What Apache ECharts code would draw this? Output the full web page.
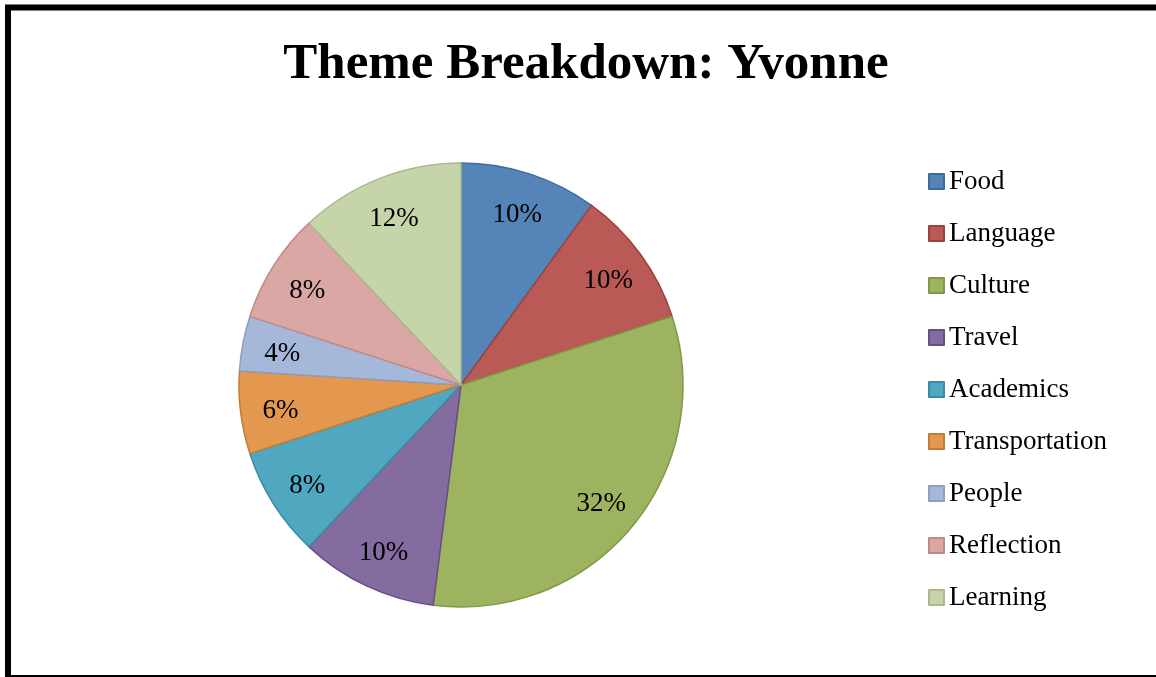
<!DOCTYPE html>
<html>
<head>
<meta charset="utf-8">
<script src="https://cdn.jsdelivr.net/npm/echarts@6/dist/echarts.min.js"></script>
<style>
  html, body { margin: 0; padding: 0; background: #fff; }
  #main { width: 1156px; height: 677px; }
</style>
</head>
<body>
<div id="main"></div>
<script>
var themes = ['Food', 'Language', 'Culture', 'Travel', 'Academics', 'Transportation', 'People', 'Reflection', 'Learning'];
var shares = [10, 10, 32, 10, 8, 6, 4, 8, 12];
var fills = ['#5584B9', '#BA5A56', '#9DB35F', '#846BA0', '#4FA8BF', '#E3974F', '#A5B8D9', '#DBA7A5', '#C6D5A9'];
var edges = ['#3F6A9C', '#9E413E', '#7E9A45', '#664F85', '#3A8CA2', '#C57A36', '#8E9FBF', '#C08A88', '#AABA8D'];

var font = 'Liberation Serif';

var slices = themes.map(function (name, i) {
    return {
        name: name,
        value: shares[i],
        itemStyle: { color: fills[i], borderColor: edges[i], borderWidth: 1.5 }
    };
});
var labelSlices = themes.map(function (name, i) {
    return { name: name, value: shares[i] };
});

var myChart = echarts.init(document.getElementById('main'));
myChart.setOption({
    animation: false,
    title: {
        text: 'Theme Breakdown: Yvonne',
        left: 581,
        textAlign: 'center',
        top: 34,
        textStyle: { fontFamily: font, fontWeight: 'bold', fontSize: 51, color: '#000' }
    },
    legend: {
        orient: 'vertical',
        left: 923,
        top: 163,
        icon: 'rect',
        itemWidth: 15,
        itemHeight: 15,
        itemGap: 25,
        data: themes,
        textStyle: { fontFamily: font, fontSize: 27, lineHeight: 27, color: '#000' }
    },
    graphic: [{
        type: 'rect',
        shape: { x: 8, y: 7.5, width: 1200, height: 670.5 },
        style: { fill: 'none', stroke: '#000', lineWidth: 6 },
        silent: true
    }],
    series: [{
        name: 'Themes',
        type: 'pie',
        center: [461, 385],
        radius: 222,
        startAngle: 90,
        clockwise: true,
        label: { show: false },
        labelLine: { show: false },
        emphasis: { disabled: true },
        data: slices
    }, {
        name: 'Labels',
        type: 'pie',
        center: [461, 388],
        radius: [136, 222],
        startAngle: 90,
        clockwise: true,
        silent: true,
        itemStyle: { color: 'rgba(0,0,0,0)', borderWidth: 0 },
        label: {
            show: true,
            position: 'inside',
            formatter: '{c}%',
            fontFamily: font,
            fontSize: 27,
            color: '#000'
        },
        labelLine: { show: false },
        emphasis: { disabled: true },
        data: labelSlices
    }]
});
</script>
</body>
</html>
